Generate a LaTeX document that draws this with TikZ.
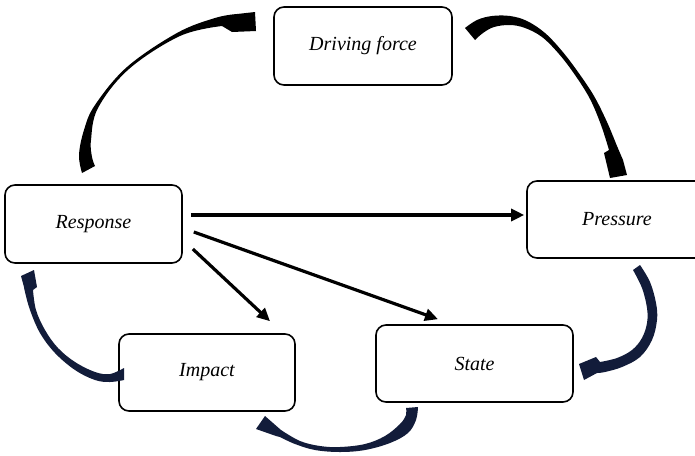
\documentclass[tikz,border=0pt]{standalone}
\usepackage{fontspec}
\setmainfont{Liberation Serif}
\usetikzlibrary{arrows.meta}
\definecolor{navy}{RGB}{18,28,58}
\begin{document}
\begin{tikzpicture}[x=1pt,y=-1pt,
  box/.style={draw, line width=1.6pt, rounded corners=10pt, inner sep=0pt,
    font=\itshape\fontsize{20}{24}\selectfont},
  link/.style={line width=3.2pt, -{Triangle[length=13pt,width=12pt]}},
  curveblack/.style={fill=black},
  curvenavy/.style={fill=navy},
]
\clip (0,0) rectangle (695,455);
\fill[white] (0,0) rectangle (695,455);

\node[box, minimum width=178pt, minimum height=78pt] (drive) at (363,46) {Driving force};
\node[box, minimum width=177pt, minimum height=78pt] (resp) at (93.5,224) {Response};
\node[box, minimum width=180pt, minimum height=77pt] (press) at (617,219.5) {Pressure};
\node[box, minimum width=197pt, minimum height=77pt] (state) at (474.5,363.5) {State};
\node[box, minimum width=176pt, minimum height=77pt] (impact) at (207,372.5) {Impact};

% straight connectors
\draw[link] ([shift={(8,-9)}]resp.east) -- ([shift={(-2,-4.5)}]press.west);
\draw[link] ([shift={(11,8)}]resp.east) -- ([shift={(-36.5,-5)}]state.north);
\draw[link] ([shift={(10,25)}]resp.east) -- ([shift={(63,-12)}]impact.north);

% Response -> Driving force
\path[curveblack] plot[smooth, tension=0.6] coordinates {(82,173) (79,155) (84,130) (95,105) (127,67) (177,33) (215,18) (237,14)}
  -- (255,12) -- (256,31) -- (232,32)
  -- plot[smooth, tension=0.6] coordinates {(222,26) (180,36) (129,69) (98,108) (91,140) (92,157) (95,166)} -- cycle;

% Driving force -> Pressure
\path[curveblack] plot[smooth, tension=0.6] coordinates {(465,28) (477,20) (492,16) (510,16) (527,21) (545,33) (562,51) (578,72) (594,96) (607,122) (617,146) (623,160)}
  -- (627,175) -- (610,178) -- (604,153)
  -- plot[smooth, tension=0.6] coordinates {(609,150) (601,125) (590,99) (575,75) (559,54) (542,37) (525,28) (510,25) (494,27) (483,33) (475,40)} -- cycle;

% Pressure -> State
\path[curvenavy] plot[smooth, tension=0.6] coordinates {(640,265) (650,282) (656,303) (657,320) (652,340) (640,357) (622,367) (605,372) (597,373)}
  -- (584,380) -- (579,364) -- (596,357)
  -- plot[smooth, tension=0.6] coordinates {(600,362) (617,358) (632,350) (642,338) (647,323) (647,308) (642,288) (633,270)} -- cycle;

% State -> Impact
\path[curvenavy] plot[smooth, tension=0.6] coordinates {(418,407) (416,420) (408,433) (390,443) (365,450) (340,452) (315,450) (295,444) (280,437)}
  -- (276,436) -- (256,429) -- (265,416)
  -- plot[smooth, tension=0.6] coordinates {(281,430) (300,441) (320,446) (340,447) (365,444) (385,436) (400,424) (406,415) (406,408)} -- cycle;

% Impact -> Response
\path[curvenavy] plot[smooth, tension=0.6] coordinates {(124,380) (110,382) (95,380) (75,370) (55,353) (40,333) (30,310) (25,292) (24,287)}
  -- (21,276) -- (34,270) -- (37,287)
  -- plot[smooth, tension=0.6] coordinates {(33,290) (36,310) (45,330) (58,348) (75,362) (95,372) (110,374) (124,368)} -- cycle;
\end{tikzpicture}
\end{document}
